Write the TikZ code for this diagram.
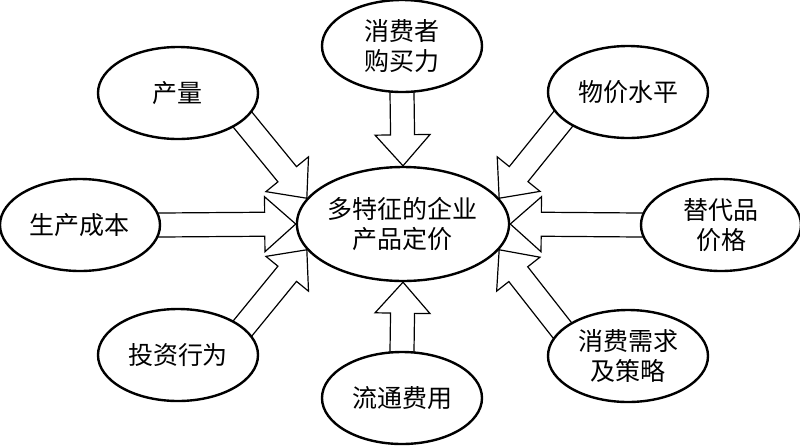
\documentclass[tikz,border=0pt]{standalone}
\usepackage{fontspec}
\newfontfamily\cjk{Noto Sans CJK SC}
\usetikzlibrary{calc,backgrounds,shapes.geometric}

\newcommand{\blockarrow}[2]{%
  \coordinate (ba-e) at (#2);
  \coordinate (ba-s) at ($(#1)!-8pt!(ba-e)$);
  \coordinate (ba-m) at ($(ba-e)!15.5pt!(ba-s)$);
  \draw[barrow] ($(ba-s)!6pt!90:(ba-e)$) -- ($(ba-m)!6pt!90:(ba-e)$)
    -- ($(ba-m)!13.75pt!90:(ba-e)$) -- (ba-e)
    -- ($(ba-m)!13.75pt!-90:(ba-e)$) -- ($(ba-m)!6pt!-90:(ba-e)$)
    -- ($(ba-s)!6pt!-90:(ba-e)$);}

\begin{document}
\begin{tikzpicture}[
  x=0.5pt, y=-0.5pt,
  factor/.style={ellipse,draw,fill=white,line width=1.2pt,minimum width=80pt,minimum height=46pt,inner sep=0pt,align=center,font=\cjk\fontsize{12.5}{15}\selectfont},
  core/.style={factor,minimum width=98pt,minimum height=57pt},
  barrow/.style={draw,fill=white,line width=0.6pt,line join=miter}
]
  \useasboundingbox (0,0) rectangle (800,446);
  \node[core] (c) at (403,224) {多特征的企业\\产品定价};
  \node[factor] (p1) at (402,46) {消费者\\购买力};
  \node[factor] (p2) at (178,93) {产量};
  \node[factor] (p3) at (628,92) {物价水平};
  \node[factor] (p4) at (80,225) {生产成本};
  \node[factor] (p5) at (721,225) {替代品\\价格};
  \node[factor] (p6) at (178,355) {投资行为};
  \node[factor] (p7) at (402,398) {流通费用};
  \node[factor] (p8) at (628,356) {消费需求\\及策略};
  \begin{scope}[on background layer]
    \blockarrow{p1.south}{c.north}
    \blockarrow{p2.-23}{c.165}
    \blockarrow{p3.-157}{c.15}
    \blockarrow{p4.east}{c.west}
    \blockarrow{p5.west}{c.east}
    \blockarrow{p6.23}{c.195}
    \blockarrow{p7.north}{c.south}
    \blockarrow{p8.158}{c.-15}
  \end{scope}
\end{tikzpicture}
\end{document}
